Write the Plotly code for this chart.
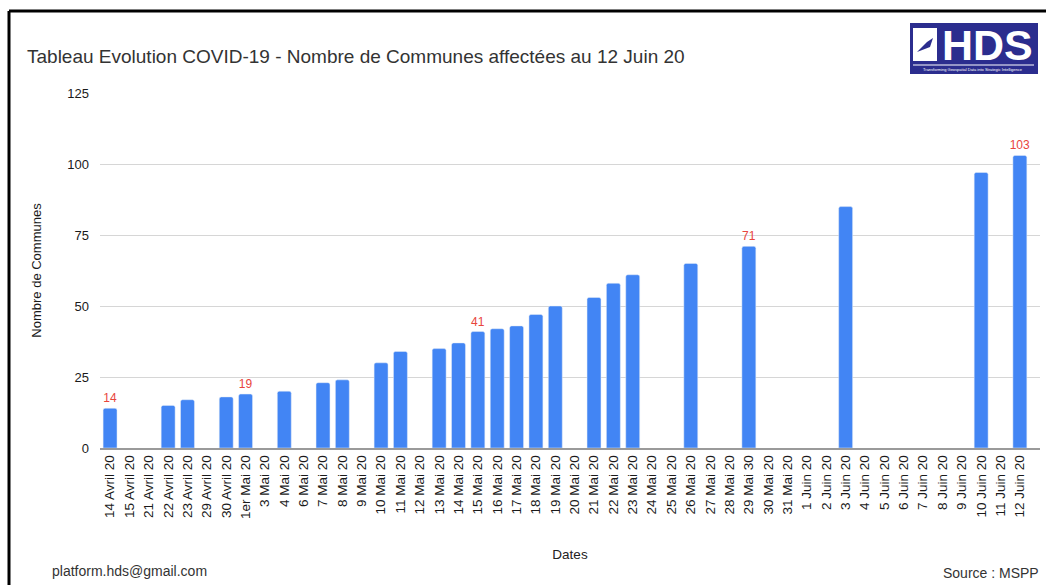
import plotly.graph_objects as go

dates = ["14 Avril 20", "15 Avril 20", "21 Avril 20", "22 Avril 20", "23 Avril 20",
         "29 Avril 20", "30 Avril 20", "1er Mai 20", "3 Mai 20", "4 Mai 20",
         "6 Mai 20", "7 Mai 20", "8 Mai 20", "9 Mai 20", "10 Mai 20",
         "11 Mai 20", "12 Mai 20", "13 Mai 20", "14 Mai 20", "15 Mai 20",
         "16 Mai 20", "17 Mai 20", "18 Mai 20", "19 Mai 20", "20 Mai 20",
         "21 Mai 20", "22 Mai 20", "23 Mai 20", "24 Mai 20", "25 Mai 20",
         "26 Mai 20", "27 Mai 20", "28 Mai 20", "29 Mai 30", "30 Mai 20",
         "31 Mai 20", "1 Juin 20", "2 Juin 20", "3 Juin 20", "4 Juin 20",
         "5 Juin 20", "6 Juin 20", "7 Juin 20", "8 Juin 20", "9 Juin 20",
         "10 Juin 20", "11 Juin 20", "12 Juin 20"]
communes = [14, None, None, 15, 17,
            None, 18, 19, None, 20,
            None, 23, 24, None, 30,
            34, None, 35, 37, 41,
            42, 43, 47, 50, None,
            53, 58, 61, None, None,
            65, None, None, 71, None,
            None, None, None, 85, None,
            None, None, None, None, None,
            97, None, 103]
labeled_dates = ["14 Avril 20", "1er Mai 20", "15 Mai 20", "29 Mai 30", "12 Juin 20"]
y_ticks = [0, 25, 50, 75, 100, 125]

labels = [str(v) if d in labeled_dates and v is not None else "" for d, v in zip(dates, communes)]

FONT = "Liberation Sans, Arial, sans-serif"

fig = go.Figure()
fig.add_trace(go.Bar(
    x=dates, y=communes,
    marker=dict(color="#4285F4", cornerradius=2),
    text=labels, textposition="outside", cliponaxis=False, constraintext="none",
    textfont=dict(color="#E8453C", size=12, family=FONT),
    width=0.72,
))

n = len(dates)
fig.update_layout(
    width=1046, height=585,
    margin=dict(l=100, r=6, t=93, b=137),
    paper_bgcolor="white", plot_bgcolor="white",
    showlegend=False,
    font=dict(family=FONT, color="#222"),
    xaxis=dict(
        type="category", range=[-0.52, n - 1 + 1.04],
        tickangle=-90, tickfont=dict(size=13.5, color="#1a1a1a"),
        showgrid=False, ticks="", showline=True, linecolor="#9a9a9a", linewidth=1.5,
        title=dict(text="Dates", font=dict(size=13.5, color="#222"), standoff=32),
    ),
    yaxis=dict(
        range=[0, 125], tickvals=y_ticks, tickfont=dict(size=13, color="#1a1a1a"),
        gridcolor="#d6d6d6", gridwidth=1, zeroline=False, ticks="",
        ticklabelstandoff=10,
        title=dict(text="Nombre de Communes", font=dict(size=13, color="#1a1a1a"), standoff=22),
    ),
)

def px(xp):
    return (xp - 100) / 940

def py(yp):
    return (448 - yp) / 355

# frame lines (top & left)
fig.add_shape(type="line", xref="paper", yref="paper", x0=px(9), x1=px(9), y0=-0.5, y1=py(11),
              line=dict(color="black", width=3))
fig.add_shape(type="line", xref="paper", yref="paper", x0=px(9), x1=1.1, y0=py(11), y1=py(11),
              line=dict(color="black", width=3))

# title
fig.add_annotation(text="Tableau Evolution COVID-19 - Nombre de Communes affectées au 12 Juin 20",
                   xref="paper", yref="paper", x=px(25), y=py(57),
                   xanchor="left", yanchor="middle", showarrow=False,
                   font=dict(size=19, color="#333", family=FONT))

# footer texts
fig.add_annotation(text="platform.hds@gmail.com", xref="paper", yref="paper",
                   x=px(50), y=py(571), xanchor="left", yanchor="middle",
                   showarrow=False, font=dict(size=14, color="#333", family=FONT))
fig.add_annotation(text="Source : MSPP", xref="paper", yref="paper",
                   x=px(941), y=py(573), xanchor="left", yanchor="middle",
                   showarrow=False, font=dict(size=14, color="#333", family=FONT))

# HDS logo
fig.add_shape(type="rect", xref="paper", yref="paper", x0=px(910), x1=px(1038), y0=py(74), y1=py(23),
              fillcolor="#2B2D8E", line=dict(width=0))
fig.add_shape(type="rect", xref="paper", yref="paper", x0=px(913), x1=px(937), y0=py(61), y1=py(28),
              fillcolor="white", line=dict(width=0))
fig.add_shape(type="path", xref="paper", yref="paper",
              path=f"M {px(917)},{py(52)} L {px(927)},{py(42)} L {px(933)},{py(38)} L {px(930)},{py(47)} Z",
              fillcolor="#2B2D8E", line=dict(width=0))
fig.add_annotation(text="<b>HDS</b>", xref="paper", yref="paper", x=px(987), y=py(45),
                   xanchor="center", yanchor="middle", showarrow=False,
                   font=dict(size=43, color="white", family=FONT))
fig.add_shape(type="line", xref="paper", yref="paper", x0=px(913), x1=px(1034), y0=py(65), y1=py(65),
              line=dict(color="white", width=1))
fig.add_annotation(text="Transforming Geospatial Data into Strategic Intelligence", xref="paper", yref="paper",
                   x=px(973), y=py(69.5), xanchor="center", yanchor="middle", showarrow=False,
                   font=dict(size=4, color="white", family=FONT))

fig.write_html("out.html", config={"displayModeBar": False},
               post_script="document.body.style.margin='0';document.body.style.overflow='hidden';")
